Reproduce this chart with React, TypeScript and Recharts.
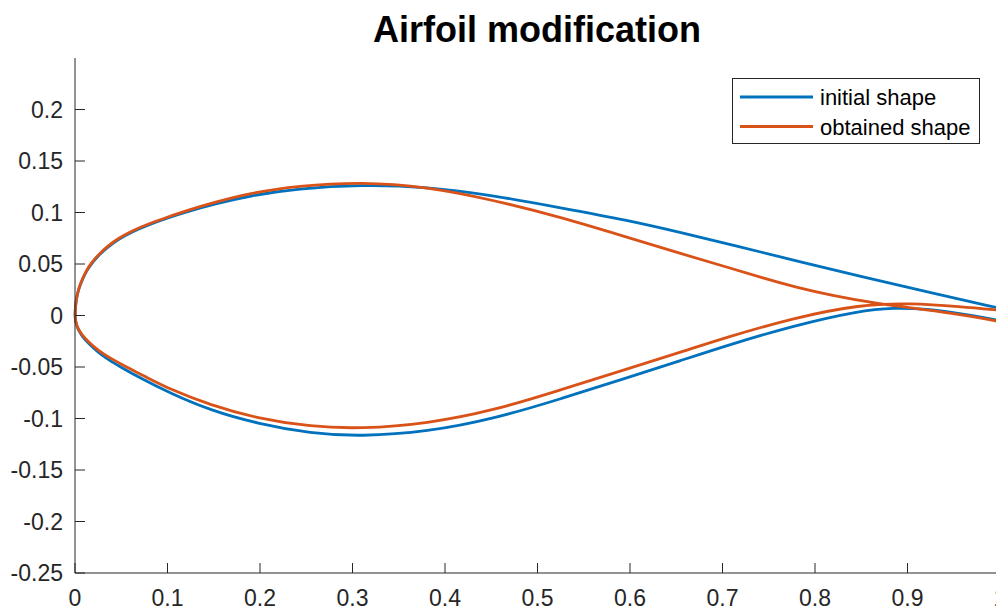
import { LineChart, Line, XAxis, YAxis, Legend } from "recharts";

const X_TICKS = [0, 0.1, 0.2, 0.3, 0.4, 0.5, 0.6, 0.7, 0.8, 0.9, 1];
const Y_TICKS = [-0.25, -0.2, -0.15, -0.1, -0.05, 0, 0.05, 0.1, 0.15, 0.2];

// initial shape (blue), upper and lower surface, leading edge -> trailing edge
const INITIAL_UPPER_X = [0, 0.0005, 0.002, 0.0045, 0.008, 0.0125, 0.0175, 0.025, 0.035, 0.047, 0.062, 0.08, 0.1, 0.123, 0.15, 0.19, 0.24, 0.31, 0.38, 0.453, 0.525, 0.597, 0.655, 0.72, 0.784, 0.85, 0.92, 1.0];
const INITIAL_UPPER_Y = [0, 0.0095, 0.0186, 0.0272, 0.035, 0.0433, 0.05, 0.058, 0.0663, 0.0741, 0.0815, 0.0883, 0.0948, 0.1013, 0.108, 0.1165, 0.1232, 0.127, 0.125, 0.1165, 0.1045, 0.0925, 0.0805, 0.0665, 0.052, 0.038, 0.023, 0.007];
const INITIAL_LOWER_X = [0, 0.0005, 0.002, 0.004, 0.008, 0.015, 0.025, 0.036, 0.049, 0.07, 0.103, 0.146, 0.197, 0.255, 0.309, 0.381, 0.453, 0.525, 0.597, 0.655, 0.705, 0.777, 0.849, 0.885, 0.921, 0.957, 1.0];
const INITIAL_LOWER_Y = [0, -0.0052, -0.0104, -0.0146, -0.0205, -0.0275, -0.0357, -0.0428, -0.0498, -0.0605, -0.0755, -0.092, -0.105, -0.1145, -0.1175, -0.113, -0.1003, -0.081, -0.0605, -0.0437, -0.029, -0.0097, 0.0049, 0.0075, 0.0065, 0.002, -0.005];

// obtained shape (orange)
const OBTAINED_UPPER_X = [0, 0.0005, 0.002, 0.0045, 0.008, 0.0125, 0.0175, 0.025, 0.035, 0.047, 0.062, 0.08, 0.1, 0.123, 0.15, 0.19, 0.24, 0.31, 0.38, 0.453, 0.525, 0.597, 0.655, 0.705, 0.745, 0.777, 0.82, 0.867, 0.921, 0.957, 1.0];
const OBTAINED_UPPER_Y = [0, 0.0097, 0.019, 0.0277, 0.0356, 0.044, 0.0508, 0.0588, 0.0672, 0.0751, 0.0825, 0.0892, 0.0955, 0.1025, 0.1097, 0.119, 0.1258, 0.1298, 0.125, 0.112, 0.0955, 0.076, 0.06, 0.047, 0.036, 0.028, 0.019, 0.0114, 0.0055, 0.001, -0.006];
const OBTAINED_LOWER_X = [0, 0.0005, 0.002, 0.004, 0.008, 0.015, 0.025, 0.036, 0.056, 0.075, 0.103, 0.146, 0.197, 0.255, 0.309, 0.381, 0.453, 0.525, 0.597, 0.655, 0.705, 0.777, 0.849, 0.903, 0.957, 1.0];
const OBTAINED_LOWER_Y = [0, -0.005, -0.0098, -0.0138, -0.0193, -0.026, -0.0338, -0.0403, -0.0502, -0.0588, -0.0718, -0.0868, -0.1, -0.108, -0.11, -0.105, -0.0922, -0.0722, -0.0518, -0.0356, -0.021, -0.0023, 0.0107, 0.012, 0.0087, 0.005];

// closed outline: trailing edge upper -> leading edge -> trailing edge lower
function outline(ux: number[], uy: number[], lx: number[], ly: number[]) {
  const upper = ux.map((x, i) => ({ x, y: uy[i] })).reverse();
  const lower = lx.map((x, i) => ({ x, y: ly[i] })).slice(1);
  return [...upper, ...lower];
}

const INITIAL = outline(INITIAL_UPPER_X, INITIAL_UPPER_Y, INITIAL_LOWER_X, INITIAL_LOWER_Y);
const OBTAINED = outline(OBTAINED_UPPER_X, OBTAINED_UPPER_Y, OBTAINED_LOWER_X, OBTAINED_LOWER_Y);

const FONT = '"Liberation Sans", Arial, Helvetica, sans-serif';
const AXIS = "#262626";
const TICK = { fill: AXIS, fontSize: 23, fontFamily: FONT };

const W = 1010;
const H = 613;

function LegendBox(props: any) {
  const items = props.payload || [];
  return (
    <svg width={248} height={66} style={{ display: "block" }}>
      <rect x={0.5} y={0.5} width={247} height={65} fill="#fff" stroke={AXIS} strokeWidth={1} />
      {items.map((p: any, i: number) => (
        <g key={p.value}>
          <line x1={8} x2={81} y1={19 + i * 29.5} y2={19 + i * 29.5} stroke={p.color} strokeWidth={3} />
          <text x={88} y={27 + i * 30} fontSize={22} fontFamily={FONT} fill="#000">
            {p.value}
          </text>
        </g>
      ))}
    </svg>
  );
}

export default function App() {
  return (
    <div style={{ position: "fixed", left: 0, top: 0, width: 996, height: 613, overflow: "hidden", background: "#fff" }}>
      <div style={{ position: "relative", width: W, height: H }}>
        <LineChart width={W} height={H} margin={{ top: 58, right: 10, bottom: 10, left: 15 }}>
          <XAxis
            type="number"
            dataKey="x"
            domain={[0, 1]}
            ticks={X_TICKS}
            interval={0}
            height={30}
            tickSize={-10}
            tickMargin={27}
            tick={TICK}
            axisLine={{ stroke: AXIS }}
            tickLine={{ stroke: AXIS }}
          />
          <XAxis
            xAxisId="top"
            orientation="top"
            type="number"
            dataKey="x"
            domain={[0, 1]}
            ticks={X_TICKS}
            interval={0}
            height={0}
            tickSize={-10}
            tickFormatter={() => ""}
            axisLine={{ stroke: AXIS }}
            tickLine={{ stroke: AXIS }}
          />
          <YAxis
            type="number"
            domain={[-0.25, 0.25]}
            ticks={Y_TICKS}
            interval={0}
            width={60}
            tickSize={-10}
            tickMargin={22}
            tick={TICK}
            tickFormatter={(v: number) => String(v)}
            axisLine={{ stroke: AXIS }}
            tickLine={{ stroke: AXIS }}
          />
          <YAxis
            yAxisId="right"
            orientation="right"
            type="number"
            domain={[-0.25, 0.25]}
            ticks={Y_TICKS}
            interval={0}
            width={0}
            tickSize={-10}
            tickFormatter={() => ""}
            axisLine={{ stroke: AXIS }}
            tickLine={{ stroke: AXIS }}
          />
          <Legend
            layout="horizontal"
            verticalAlign="middle"
            align="center"
            content={<LegendBox />}
            wrapperStyle={{ left: 732, top: 78, width: 248, height: 66 }}
          />
          <Line
            data={INITIAL}
            dataKey="y"
            name="initial shape"
            type="basis"
            stroke="#0072BD"
            strokeWidth={2.8}
            dot={false}
            isAnimationActive={false}
          />
          <Line
            data={OBTAINED}
            dataKey="y"
            name="obtained shape"
            type="basis"
            stroke="#D95319"
            strokeWidth={2.8}
            dot={false}
            isAnimationActive={false}
          />
        </LineChart>
        <div
          style={{
            position: "absolute",
            left: 0,
            top: 11.5,
            width: 1074,
            textAlign: "center",
            fontFamily: FONT,
            fontWeight: "bold",
            fontSize: 36,
            lineHeight: "36px",
            color: "#000",
          }}
        >
          Airfoil modification
        </div>
      </div>
    </div>
  );
}
